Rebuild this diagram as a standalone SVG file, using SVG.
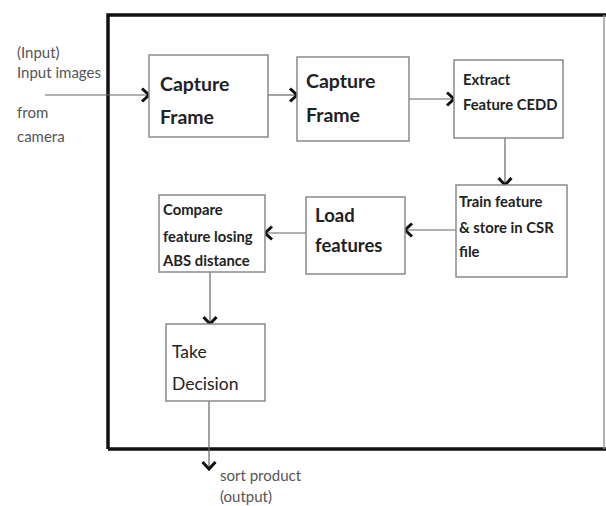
<svg xmlns="http://www.w3.org/2000/svg" width="606" height="506" viewBox="0 0 606 506">
<style>
text{font-family:Lato,"Open Sans","Liberation Sans",sans-serif;fill:#222}
.box{fill:#fff;stroke:#8a8a8a;stroke-width:1.5}
.t18{font-size:19.5px;font-weight:bold}
.t17{font-size:18.5px;font-weight:bold}
.t13b{font-size:14.8px;font-weight:bold}
.t18r{font-size:17.5px}
.lbl{font-size:15px;fill:#555}
.con{stroke:#666;stroke-width:1.2;fill:none}
</style>
<defs>
<marker id="chev" viewBox="-9 -8 11 16" markerWidth="11" markerHeight="16" refX="0" refY="0" orient="auto" markerUnits="userSpaceOnUse">
<path d="M-7,-6.5 L0,0 L-7,6.5" fill="none" stroke="#111" stroke-width="3" stroke-linejoin="miter"/>
</marker>
</defs>
<rect width="606" height="506" fill="#fff"/>
<g id="frame">
<path d="M108,449 L108,15 L606,15" fill="none" stroke="#111" stroke-width="3.5"/>
<path d="M108,449 L606,449" fill="none" stroke="#111" stroke-width="3.5"/>
<line x1="604" y1="15" x2="604" y2="449" stroke="#999" stroke-width="1.5"/>
</g>
<g id="input-label">
<text class="lbl" x="17" y="58">(Input)</text>
<text class="lbl" x="17" y="78">Input images</text>
<text class="lbl" x="17" y="118">from</text>
<text class="lbl" x="17" y="142">camera</text>
</g>
<g id="connectors">
<line class="con" x1="45" y1="95" x2="149" y2="95" marker-end="url(#chev)"/>
<line class="con" x1="268" y1="95" x2="297" y2="95" marker-end="url(#chev)"/>
<line class="con" x1="409" y1="99" x2="454" y2="99" marker-end="url(#chev)"/>
<line class="con" x1="505" y1="138" x2="505" y2="185" marker-end="url(#chev)"/>
<line class="con" x1="456" y1="230" x2="405" y2="230" marker-end="url(#chev)"/>
<line class="con" x1="306" y1="233" x2="265" y2="233" marker-end="url(#chev)"/>
<line class="con" x1="210" y1="272" x2="210" y2="324" marker-end="url(#chev)"/>
<line class="con" x1="209" y1="401" x2="209" y2="469" marker-end="url(#chev)"/>
</g>
<g id="capture1">
<rect class="box" x="149" y="55" width="119" height="82"/>
<text class="t18" x="160" y="91">Capture</text>
<text class="t18" x="160" y="124">Frame</text>
</g>
<g id="capture2">
<rect class="box" x="297" y="57" width="112" height="84"/>
<text class="t18" x="306" y="88">Capture</text>
<text class="t18" x="306" y="122">Frame</text>
</g>
<g id="extract">
<rect class="box" x="454" y="60" width="109" height="78"/>
<text class="t13b" x="463" y="85">Extract</text>
<text class="t13b" x="463" y="110">Feature CEDD</text>
</g>
<g id="train">
<rect class="box" x="456" y="185" width="111" height="92"/>
<text class="t13b" x="459" y="207">Train feature</text>
<text class="t13b" x="459" y="233">&amp; store in CSR</text>
<text class="t13b" x="459" y="257">file</text>
</g>
<g id="load">
<rect class="box" x="306" y="197" width="99" height="77"/>
<text class="t17" x="315" y="222">Load</text>
<text class="t17" x="315" y="252">features</text>
</g>
<g id="compare">
<rect class="box" x="159" y="195" width="106" height="77"/>
<text class="t13b" x="163" y="215">Compare</text>
<text class="t13b" x="163" y="242">feature losing</text>
<text class="t13b" x="163" y="266">ABS distance</text>
</g>
<g id="decision">
<rect class="box" x="166" y="324" width="99" height="77"/>
<text class="t18r" x="172" y="358">Take</text>
<text class="t18r" x="172" y="390">Decision</text>
</g>
<g id="output-label">
<text class="lbl" x="220" y="481">sort product</text>
<text class="lbl" x="220" y="502">(output)</text>
</g>
</svg>
